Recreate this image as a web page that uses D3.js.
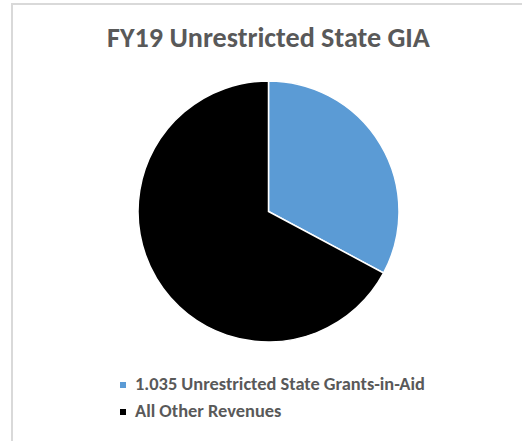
<!DOCTYPE html>
<html><head><meta charset="utf-8">
<script src="https://cdn.jsdelivr.net/npm/d3@7"></script>
<style>html,body{margin:0;padding:0;background:#fff;overflow:hidden}</style>
</head><body>
<svg id="c" width="522" height="441"></svg>
<script>
const title = "FY19 Unrestricted State GIA";
const categories = ["1.035 Unrestricted State Grants-in-Aid", "All Other Revenues"];
const values = [1.035, 2.12];
const colors = ["#5b9bd5", "#000000"];

const svg = d3.select("#c");
svg.append("rect").attr("x", 12).attr("y", 4).attr("width", 530).attr("height", 460)
  .attr("fill", "#fff").attr("stroke", "#d9d9d9").attr("stroke-width", 2);

const font = "Carlito, 'Open Sans', 'Noto Sans', sans-serif";
function fit(t, w) {
  let fs = +t.attr("font-size");
  const len = t.node().getComputedTextLength();
  t.attr("font-size", fs * w / len);
}
const tt = svg.append("text").attr("x", 268.5).attr("y", 47).attr("text-anchor", "middle")
  .attr("font-family", font).attr("font-weight", "bold").attr("font-size", 22)
  .attr("fill", "#595959").text(title);
fit(tt, 323);

const cx = 268.5, cy = 211.5, r = 130.5;
const pie = d3.pie().sort(null).value(d => d)(values);
const arc = d3.arc().innerRadius(0).outerRadius(r);
const g = svg.append("g").attr("transform", `translate(${cx},${cy})`);
g.selectAll("path").data(pie).join("path").attr("d", arc)
  .attr("fill", (d, i) => colors[i]).attr("stroke", "#fff").attr("stroke-width", 1.5);

const lg = svg.append("g");
categories.forEach((c, i) => {
  const y = 385 + i * 27;
  lg.append("rect").attr("x", 120).attr("y", y - 3).attr("width", 6).attr("height", 6).attr("fill", colors[i]);
  const t = lg.append("text").attr("x", 135).attr("y", y + 4.5)
    .attr("font-family", font).attr("font-weight", 600).attr("font-size", 14).attr("fill", "#595959").text(c);
  if (i === 0) fit(t, 290);
});
const fs0 = lg.selectAll("text").filter((d, i) => i === 0).attr("font-size");
lg.selectAll("text").attr("font-size", fs0);
</script>
</body></html>
